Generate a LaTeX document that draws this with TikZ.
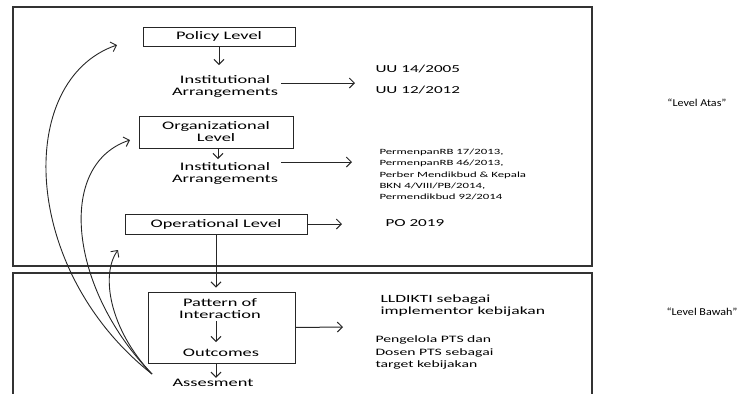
\documentclass[tikz,border=0pt]{standalone}
\usepackage{fontspec}
\setmainfont{Carlito}[FakeStretch=1.6]
\newfontfamily\levelfont{Carlito}[FakeStretch=1.15]
\usetikzlibrary{arrows.meta}

\begin{document}
\begin{tikzpicture}[x=1pt,y=-1pt,line width=1pt,draw=black!85,
lvl/.style n args={2}{draw,minimum width=#1pt,minimum height=#2pt,inner sep=0pt,align=center,font=\fontsize{11.5}{12}\selectfont},
lbl/.style={align=center,inner sep=0pt,font=\fontsize{11.5}{12}\selectfont},
ref/.style={anchor=west,align=left,inner sep=0pt},
flw/.style={-{Straight Barb[length=5pt,width=10pt]}},
frm/.style={line width=1.3pt,draw=black!80}]
\useasboundingbox (0,0) rectangle (740,394);
\clip (0,0) rectangle (740,394);
\draw[frm] (13,7) rectangle (592,266);
\draw[frm] (13,273) rectangle (592,420);
\node[lvl={152}{19}] (policy) at (219,36.5) {Policy Level};
\node[lbl] (inst1) at (225,86) {Institutional\\Arrangements};
\node[lvl={154}{32}] (org) at (216,132) {Organizational\\Level};
\node[lbl] (inst2) at (225,173.5) {Institutional\\Arrangements};
\node[lvl={182}{20}] (oper) at (216,224) {Operational Level};
\node[lvl={147}{71}] (patbox) at (221.5,327.5) {};
\node[lbl] (pattern) at (220,308.5) {Pattern of\\Interaction};
\node[lbl] (outcomes) at (221,353) {Outcomes};
\node[lbl] (assess) at (213,383) {Assesment};
\node[ref,font=\fontsize{10.7}{12}\selectfont] (uu1) at (375,69) {UU 14/2005};
\node[ref,font=\fontsize{10.7}{12}\selectfont] (uu2) at (375,90) {UU 12/2012};
\node[ref,font=\fontsize{8}{11.3}\selectfont] (perm) at (379,174.5) {PermenpanRB 17/2013,\\PermenpanRB 46/2013,\\Perber Mendikbud \& Kepala\\BKN 4/VIII/PB/2014,\\Permendikbud 92/2014};
\node[ref,font=\fontsize{10.7}{12}\selectfont] (po) at (385,223) {PO 2019};
\node[ref,font=\fontsize{11}{12}\selectfont] (lldikti) at (380,306) {LLDIKTI sebagai\\implementor kebijakan};
\node[ref,font=\fontsize{9.8}{12.5}\selectfont] (target) at (375,352.5) {Pengelola PTS dan\\Dosen PTS sebagai\\target kebijakan};
\node[inner sep=0pt,font=\levelfont\fontsize{10.5}{12}\selectfont] (atas) at (697,103) {“Level Atas”};
\node[inner sep=0pt,font=\levelfont\fontsize{10.5}{12}\selectfont] (bawah) at (702,312) {“Level Bawah”};
\coordinate (c1) at (355,83);
\coordinate (c2) at (352,162);
\coordinate (c3) at (342,224);
\coordinate (c4) at (343,327);
\coordinate (fbs) at (152,374);
\coordinate (fb1) at (117,45);
\coordinate (fb2) at (130,140);
\coordinate (fb3) at (118,250);
\draw[flw] (policy.south -| 219,0) -- (219,65);
\draw[flw] (org.south -| 218,0) -- (218,159);
\draw[flw] (inst1.east |- c1) ++(3,0) -- (c1);
\draw[flw] (inst2.east |- c2) ++(3,0) -- (c2);
\draw[flw] (oper.east) -- (c3);
\draw[flw] (patbox.east) -- (c4);
\draw[flw] (oper.south) -- ([yshift=4pt]oper.south |- patbox.north);
\draw[flw] (216,321) -- (216,342);
\draw[flw] (patbox.south -| 216,0) -- ([yshift=1pt]assess.north -| 216,0);
\foreach \ax/\ay/\bx/\by/\t in {20/270/15/80/fb1,70/290/55/165/fb2,110/330/100/275/fb3} {
\draw[flw,line width=0.9pt] (fbs) .. controls (\ax,\ay) and (\bx,\by) .. (\t);
}
\end{tikzpicture}
\end{document}
